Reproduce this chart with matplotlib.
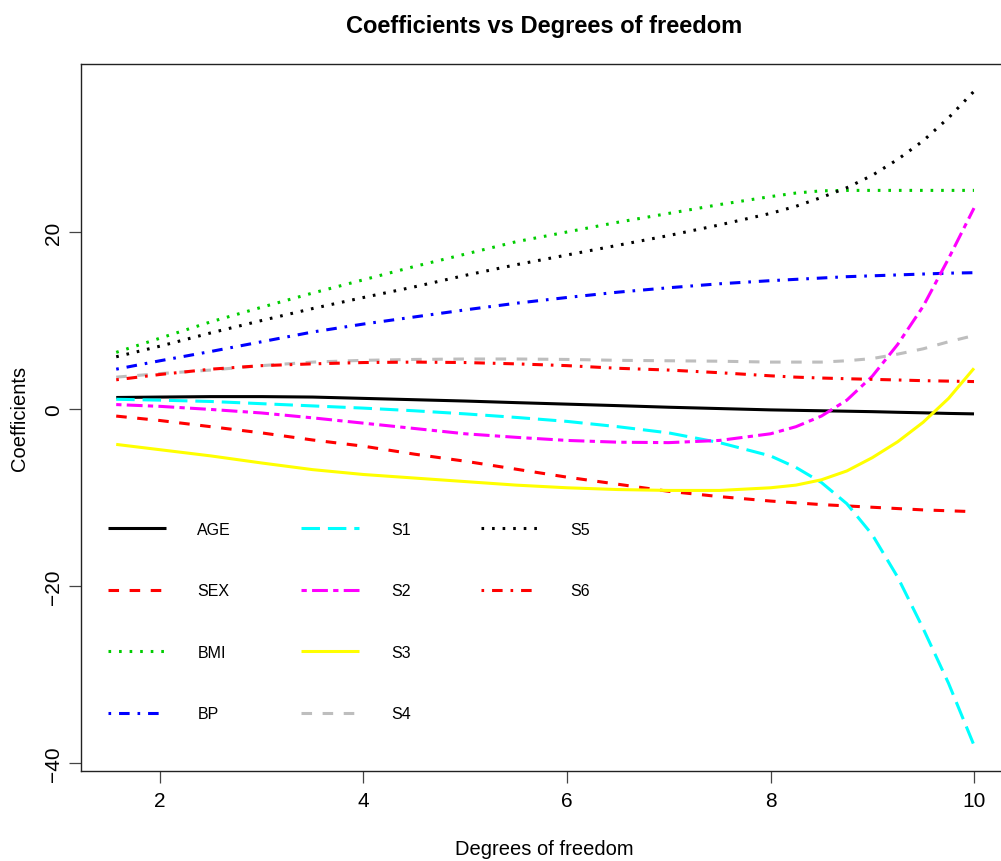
import matplotlib
matplotlib.use("Agg")
import matplotlib.pyplot as plt
from matplotlib.lines import Line2D

plt.rcParams["font.family"] = ["Liberation Sans", "DejaVu Sans"]
plt.rcParams["lines.scale_dashes"] = False

# Effective degrees of freedom along the ridge path
df = [1.57, 2, 2.5, 3, 3.5, 4, 4.5, 5, 5.5, 6, 6.5, 7, 7.5, 8,
      8.25, 8.5, 8.75, 9, 9.25, 9.5, 9.75, 10]

# Coefficient paths
AGE = [1.3, 1.35, 1.4, 1.4, 1.35, 1.2, 1.05, 0.9, 0.72, 0.55, 0.38, 0.2, 0.05, -0.1,
       -0.15, -0.2, -0.25, -0.3, -0.37, -0.43, -0.5, -0.55]
SEX = [-0.8, -1.3, -2.0, -2.7, -3.5, -4.2, -5.1, -5.9, -6.8, -7.7, -8.5, -9.3, -9.9, -10.4,
       -10.6, -10.8, -10.95, -11.1, -11.25, -11.4, -11.5, -11.6]
BMI = [6.4, 8.0, 9.85, 11.5, 13.1, 14.6, 16.1, 17.5, 18.9, 20.0, 21.1, 22.1, 23.1, 24.0,
       24.4, 24.65, 24.7, 24.7, 24.7, 24.7, 24.7, 24.7]
BP = [4.5, 5.45, 6.5, 7.6, 8.7, 9.6, 10.4, 11.2, 11.95, 12.6, 13.2, 13.7, 14.15, 14.5,
      14.65, 14.8, 14.95, 15.05, 15.15, 15.25, 15.35, 15.4]
S1 = [1.1, 1.0, 0.85, 0.6, 0.35, 0.1, -0.2, -0.55, -0.95, -1.4, -2.0, -2.7, -3.8, -5.3,
      -6.6, -8.3, -10.7, -14.2, -19.0, -24.8, -31.0, -38.0]
S2 = [0.5, 0.3, -0.05, -0.45, -1.0, -1.6, -2.2, -2.8, -3.2, -3.55, -3.75, -3.8, -3.55, -2.8,
      -2.0, -0.8, 1.0, 3.7, 7.3, 11.6, 17.0, 22.7]
S3 = [-4.0, -4.6, -5.3, -6.1, -6.85, -7.4, -7.8, -8.2, -8.6, -8.9, -9.1, -9.2, -9.2, -8.9,
      -8.6, -8.0, -7.0, -5.5, -3.7, -1.5, 1.2, 4.6]
S4 = [3.6, 4.0, 4.4, 4.9, 5.3, 5.5, 5.6, 5.65, 5.65, 5.6, 5.5, 5.45, 5.4, 5.3,
      5.3, 5.3, 5.45, 5.7, 6.2, 6.8, 7.6, 8.3]
S5 = [5.9, 7.1, 8.6, 10.0, 11.35, 12.6, 13.8, 15.1, 16.3, 17.4, 18.5, 19.6, 20.8, 22.1,
      22.9, 23.9, 25.0, 26.4, 28.2, 30.3, 32.9, 35.9]
S6 = [3.3, 3.9, 4.5, 4.9, 5.1, 5.25, 5.3, 5.25, 5.1, 4.9, 4.6, 4.4, 4.1, 3.75,
      3.6, 3.5, 3.42, 3.35, 3.28, 3.2, 3.15, 3.1]

names = ["AGE", "SEX", "BMI", "BP", "S1", "S2", "S3", "S4", "S5", "S6"]
paths = [AGE, SEX, BMI, BP, S1, S2, S3, S4, S5, S6]

x_ticks = [2, 4, 6, 8, 10]
y_ticks = [-40, -20, 0, 20]

# palette 1:8 and line types 1:6, recycled
palette = ["black", "#FF0000", "#00CD00", "#0000FF", "#00FFFF", "#FF00FF", "#FFFF00", "#BEBEBE"]
u = 1.9
ltys = [
    "-",                                 # solid
    (0, (4 * u, 4 * u)),                 # dashed
    (0, (1 * u, 3 * u)),                 # dotted
    (0, (1 * u, 3 * u, 4 * u, 3 * u)),   # dotdash
    (0, (7 * u, 3 * u)),                 # longdash
    (0, (2 * u, 2 * u, 6 * u, 2 * u)),   # twodash
]

W, H = 1001, 862
fig = plt.figure(figsize=(W / 100, H / 100), dpi=100)
left_px, right_px, top_px, bottom_px = 81, 1008, 65, 772
ax = fig.add_axes([left_px / W, 1 - bottom_px / H,
                   (right_px - left_px) / W, (bottom_px - top_px) / H])

lw = 2.2
handles = []
for i, (name, vals) in enumerate(zip(names, paths)):
    h, = ax.plot(df, vals, color=palette[i % 8], lw=lw, linestyle=ltys[i % 6],
                 label=name, dash_capstyle="butt", solid_capstyle="butt")
    handles.append(h)

ax.set_xlim(1.224, 10.334)
ax.set_ylim(-40.9, 38.98)
ax.set_xticks(x_ticks)
ax.set_yticks(y_ticks)
ax.set_xticklabels([str(v) for v in x_ticks])
ax.set_yticklabels([str(v).replace("-", "\u2212") for v in y_ticks])

for s in ax.spines.values():
    s.set_color("#222222")
    s.set_linewidth(1.0)

ax.tick_params(axis="both", direction="out", length=8.6, width=0.9, color="#444444",
               labelsize=15, labelcolor="black")
ax.tick_params(axis="x", pad=5.5)
ax.tick_params(axis="y", pad=4)
for lab in ax.get_yticklabels():
    lab.set_rotation(90)
    lab.set_va("center")
    lab.set_ha("right")

ax.set_xlabel("Degrees of freedom", fontsize=14.5)
ax.xaxis.set_label_coords(0.5, -(840 - bottom_px) / (bottom_px - top_px))
ax.set_ylabel("Coefficients", fontsize=14.5)
ax.yaxis.set_label_coords((29 - left_px) / (right_px - left_px), 0.5)

fig.text(544 / W, 1 - 33 / H, "Coefficients vs Degrees of freedom",
         ha="center", va="baseline", fontsize=17, fontweight="bold")

# three columns filled 4-4-2: pad the last column with empty slots
blank = Line2D([], [], linestyle="none")
leg_handles = handles + [blank, blank]
leg_labels = names + ["", ""]

fs = 11.5
ax.legend(leg_handles, leg_labels, ncol=3, loc="upper left",
          bbox_to_anchor=((108 - left_px) / (right_px - left_px),
                          (bottom_px - 523) / (bottom_px - top_px)),
          frameon=False, fontsize=fs, handlelength=3.6, handletextpad=2.0,
          labelspacing=2.91, columnspacing=4.4, borderpad=0, borderaxespad=0)

fig.savefig("out.png", dpi=100)
